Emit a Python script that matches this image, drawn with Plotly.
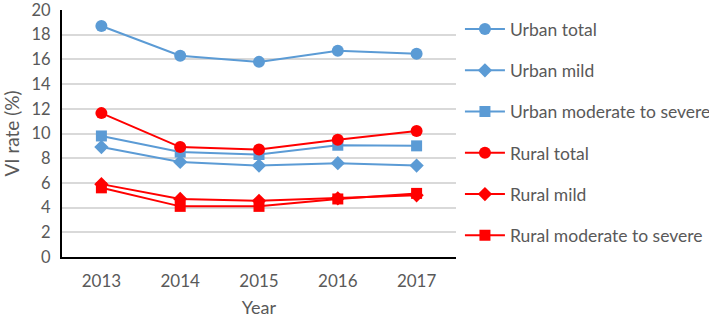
import plotly.graph_objects as go

years = ["2013", "2014", "2015", "2016", "2017"]
urban_total = [18.7, 16.3, 15.8, 16.7, 16.45]
urban_mild = [8.9, 7.7, 7.4, 7.6, 7.4]
urban_modsev = [9.8, 8.5, 8.3, 9.05, 9.0]
rural_total = [11.65, 8.9, 8.7, 9.5, 10.2]
rural_mild = [5.9, 4.7, 4.55, 4.75, 5.0]
rural_modsev = [5.6, 4.1, 4.1, 4.7, 5.15]

BLUE = "#5B9BD5"
RED = "#FF0000"

series = [
    ("Urban total", urban_total, BLUE, "circle", 12),
    ("Urban mild", urban_mild, BLUE, "diamond", 11),
    ("Urban moderate to severe", urban_modsev, BLUE, "square", 11),
    ("Rural total", rural_total, RED, "circle", 12),
    ("Rural mild", rural_mild, RED, "diamond", 11),
    ("Rural moderate to severe", rural_modsev, RED, "square", 11),
]

fig = go.Figure()
for i, (name, vals, col, sym, sz) in enumerate(series):
    fig.add_trace(go.Scatter(
        x=years, y=vals, name=name, mode="lines+markers",
        line=dict(color=col, width=2),
        marker=dict(symbol=sym, size=sz, color=col),
        legendgroup=f"g{i}",
    ))

font = "Lato, 'Open Sans', sans-serif"
fig.update_layout(
    width=709, height=318,
    margin=dict(l=62, r=253, t=10, b=61, autoexpand=False),
    paper_bgcolor="white", plot_bgcolor="white",
    font=dict(family=font, size=17, color="#595959"),
    showlegend=True,
    legend=dict(
        x=1.01, y=0.995, xanchor="left", yanchor="top",
        font=dict(size=17.5, color="#595959"),
        tracegroupgap=15.5, itemwidth=40,
        bgcolor="rgba(0,0,0,0)",
    ),
    xaxis=dict(
        type="category", range=[-0.5, 4.5],
        showline=True, linecolor="black", linewidth=2,
        showgrid=False, ticks="outside", ticklen=8, tickcolor="rgba(0,0,0,0)",
        title=dict(text="Year", font=dict(size=18, color="#595959"), standoff=13),
        tickfont=dict(size=17, color="#595959"),
    ),
    yaxis=dict(
        range=[0, 20], dtick=2,
        showline=True, linecolor="black", linewidth=2,
        showgrid=True, gridcolor="#D9D9D9", gridwidth=1.5,
        zeroline=False, ticks="outside", ticklen=6, tickcolor="rgba(0,0,0,0)",
        ticklabeloverflow="allow",
        title=dict(text="VI rate (%)", font=dict(size=19, color="#595959"), standoff=12),
        tickfont=dict(size=16.5, color="#595959"),
    ),
)

fig.write_html("out.html", config={"displayModeBar": False},
               post_script="document.body.style.margin='0';")
